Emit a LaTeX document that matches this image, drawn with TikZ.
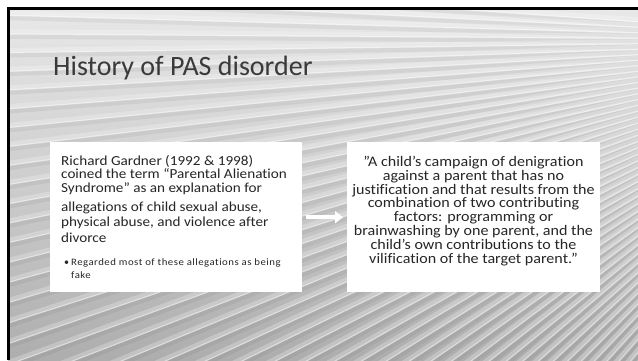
\documentclass[tikz,border=0pt]{standalone}
\usepackage{fontspec}
\setmainfont[Ligatures={NoCommon,NoRare,NoContextual}]{Carlito}
\newfontfamily\bodyfont[FakeStretch=1.1,Ligatures={NoCommon,NoRare,NoContextual}]{Carlito}
\newfontfamily\spacedfont[FakeStretch=1.1,LetterSpace=5,Ligatures={NoCommon,NoRare,NoContextual}]{Carlito}
\usetikzlibrary{arrows.meta}
\newcommand\tightlines{\lineskiplimit=-50pt\lineskip=0pt}
\definecolor{txt}{HTML}{262626}
\definecolor{ttl}{HTML}{3A3A3A}
\definecolor{bgtop}{HTML}{E8E8E8}
\definecolor{bgmid}{HTML}{CDCDCD}
\definecolor{bgbot}{HTML}{ADADAD}
\begin{document}
\begin{tikzpicture}[x=1pt,y=-1pt,
  panel/.style={fill=white, draw=none, inner sep=0},
  parl/.style={anchor=north west, inner sep=0, align=left, text=txt, font=\bodyfont\fontsize{13.8}{13}\selectfont\tightlines},
  parr/.style={anchor=north, inner sep=0, align=center, text=txt, font=\bodyfont\fontsize{14.6}{13.9}\selectfont\tightlines},
  parb/.style={anchor=north west, inner sep=0, align=left, text=txt, font=\spacedfont\fontsize{9.8}{13.5}\selectfont\tightlines},
  flow/.style={white, line width=4.2pt, -{Triangle[width=12pt,length=8pt]}, shorten <=4pt, shorten >=4pt}]
\useasboundingbox (0,0) rectangle (638,360);
\fill[white] (0,0) rectangle (638,360);
% background
\shade[top color=bgtop, bottom color=bgbot, middle color=bgmid] (8,8) rectangle (638,360);
\begin{scope}
  \clip (8,8) rectangle (638,360);
  \foreach \a in {-4,-2.8,...,56} {
    \draw[black, opacity=0.05, line width=4pt] (900,43) -- ++({-cos(\a)*1100},{sin(\a)*1100});
    \draw[white, opacity=0.25, line width=5pt] (900,38) -- ++({-cos(\a)*1100},{sin(\a)*1100});
    \draw[white, opacity=0.45, line width=1pt] (900,40) -- ++({-cos(\a)*1100},{sin(\a)*1100});
  }
\end{scope}
\draw[black, line width=3pt, line join=miter] (8.2,360) -- (8.2,8.2) -- (638,8.2);
% title
\node[anchor=base west, inner sep=0, text=ttl, font=\fontsize{28}{28}\selectfont] (title) at (53,75) {History of PAS disorder};
% panels
\node[panel, minimum width=252pt, minimum height=150pt, anchor=north west] (left) at (50,142) {};
\node[panel, minimum width=253pt, minimum height=150pt, anchor=north west] (right) at (347,142) {};
% left text (first baseline 165.5)
\node[parl] (ltext) at (61,152.5) {\rule{0pt}{13pt}Richard Gardner (1992 \& 1998)\\
coined the term “Parental Alienation\\[1pt]
Syndrome” as an explanation for\\[6pt]
allegations of child sexual abuse,\\[2pt]
physical abuse, and violence after\\[3pt]
divorce};
\node[anchor=base west, inner sep=0, text=txt, font=\fontsize{10}{10}\selectfont] (bullet) at (64,265) {•};
\node[parb] (btext) at (71,255) {\rule{0pt}{10pt}Regarded most of these allegations as being\\
fake};
% right text (first baseline 166)
\node[parr] (rtext) at (473.5,153) {\rule{0pt}{13pt}”A child’s campaign of denigration\\
against a parent that has no\\
justification and that results from the\\
combination of two contributing\\
factors: programming or\\
brainwashing by one parent, and the\\
child’s own contributions to the\\
vilification of the target parent.”};
% arrow
\draw[flow] (left.east) -- (right.west);
\end{tikzpicture}
\end{document}
